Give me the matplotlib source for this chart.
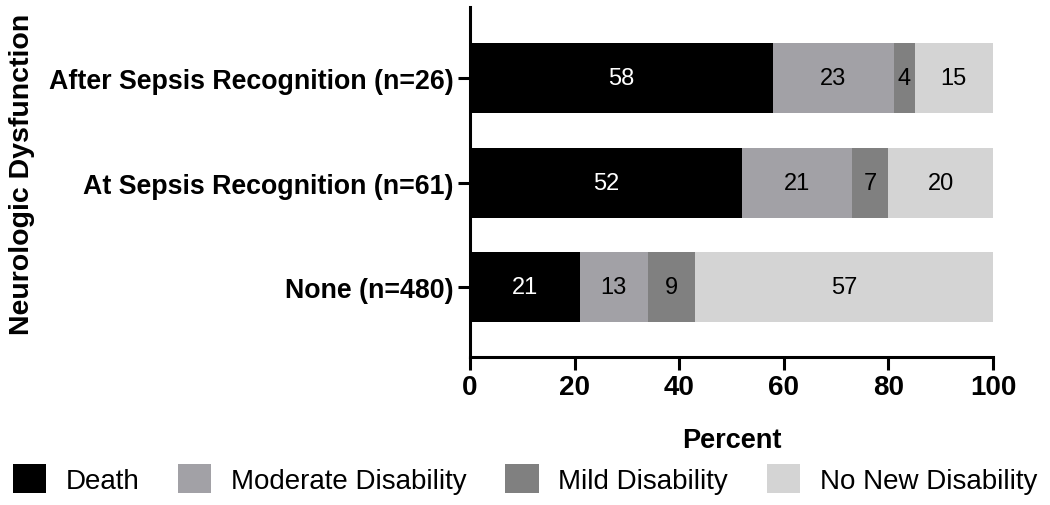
import matplotlib
matplotlib.use("Agg")
import matplotlib.pyplot as plt
from matplotlib.patches import Patch

plt.rcParams['font.family'] = ['Liberation Sans', 'DejaVu Sans']

categories = ["None (n=480)", "At Sepsis Recognition (n=61)", "After Sepsis Recognition (n=26)"]
series_names = ["Death", "Moderate Disability", "Mild Disability", "No New Disability"]
death = [21, 52, 58]
moderate = [13, 21, 23]
mild = [9, 7, 4]
no_new = [57, 20, 15]
colors = ["#000000", "#a2a1a6", "#808080", "#d4d4d4"]
label_colors = ["white", "black", "black", "black"]

fig = plt.figure(figsize=(10.5, 5.06), dpi=100)
ax = fig.add_axes([0.4476, 0.2925, 0.4981, 0.6915])

ypos = list(range(len(categories)))
left = [0] * len(categories)
for name, vals, c, lc in zip(series_names, [death, moderate, mild, no_new], colors, label_colors):
    ax.barh(ypos, vals, left=left, height=0.67, color=c, edgecolor='none', label=name)
    for y, v, l in zip(ypos, vals, left):
        ax.text(l + v / 2, y, str(v), ha='center', va='center', color=lc, fontsize=17)
    left = [a + b for a, b in zip(left, vals)]

ax.set_xlim(0, 100)
ax.set_ylim(-0.67, 2.68)
ax.set_xticks([0, 20, 40, 60, 80, 100])
ax.set_yticks(ypos)
ax.set_yticklabels(categories, fontsize=19.3, fontweight='bold')
for t in ax.get_xticklabels():
    t.set_fontsize(20)
    t.set_fontweight('bold')
ax.tick_params(axis='both', width=2.2, length=9, direction='out')
ax.tick_params(axis='y', pad=3)
ax.tick_params(axis='x', pad=3)
for s in ['top', 'right']:
    ax.spines[s].set_visible(False)
for s in ['left', 'bottom']:
    ax.spines[s].set_linewidth(2.2)
ax.set_xlabel("Percent", fontsize=19.5, fontweight='bold', labelpad=20)
fig.text(0.021, 0.656, "Neurologic Dysfunction", rotation=90, ha='center', va='center',
         fontsize=20.5, fontweight='bold')

handles = [Patch(facecolor=c, edgecolor='none') for c in colors]
fig.legend(handles, series_names, loc='center left', bbox_to_anchor=(0.012, 0.051), ncol=4,
           frameon=False, fontsize=20, handlelength=1.2, handleheight=1.24,
           columnspacing=1.4, handletextpad=0.7, borderpad=0, borderaxespad=0)

fig.savefig("out.png", dpi=100)
